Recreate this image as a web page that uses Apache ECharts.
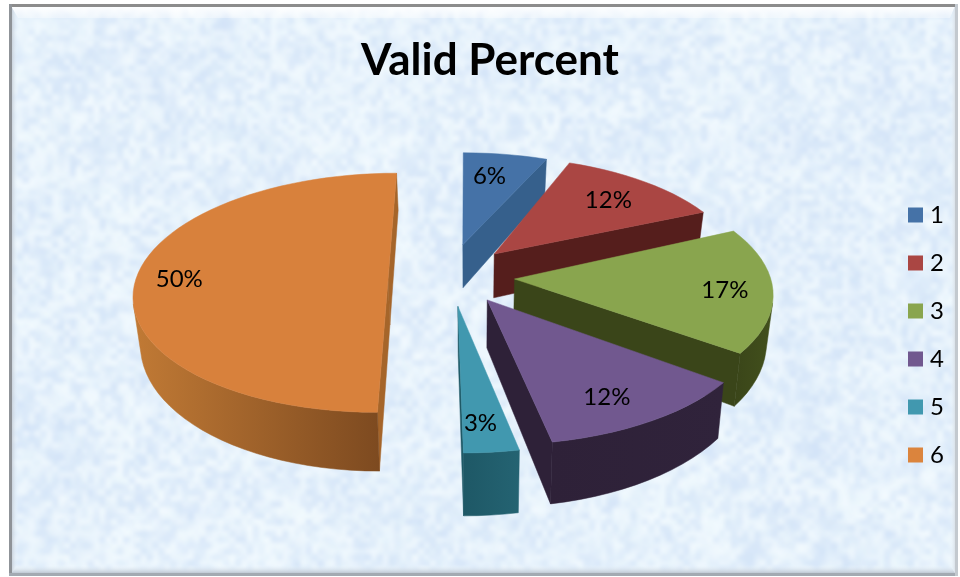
<!DOCTYPE html>
<html lang="en">
<head>
    <meta charset="UTF-8">
    <title>Valid Percent</title>
    <style>
        html, body { margin: 0; padding: 0; background: #fff; }
        #main { width: 960px; height: 577px; }
    </style>
</head>
<body>
    <div id="main"></div>
    <script src="https://cdn.jsdelivr.net/npm/echarts@6/dist/echarts.min.js"></script>
    <script>
        // chart data
        var categories = ['1', '2', '3', '4', '5', '6'];
        var percents = [6, 12, 17, 12, 3, 50];
        var colors = ['#4572a7', '#aa4643', '#89a54e', '#71588f', '#4198af', '#d8813c'];
        var legendColors = ['#4572a7', '#aa4643', '#89a54e', '#71588f', '#4198af', '#db843d'];

        // look of the tilted pie (office style 3d, slices pulled out)
        var pie = { cx: 470, cy: 279, rx: 256, ry: 118, persp: 0.1152, depth: 46, shrink: 0.978, labelR: 0.8 };
        var pull = [[-0.03, 0.22], [0.07, 0.18], [0.175, 0], [0.09, -0.21], [-0.022, -0.26], [-0.32, 0]];
        var apexPull = [[-0.029, 0.3], [0.097, 0.217], [0.174, 0], [0.066, -0.174], [-0.046, -0.226], [-0.32, 0]];
        var radiusScale = [1, 1, 1, 1, 1, 0.985];
        var labelShift = [[-8, 4], [-7, 4], [4, 2], [-11, 2], [-5, 2], [-4, 0]];
        var cutColors = ['#36608c', '#551e1c', '#3a4519', '#2e2138', '#1f5966', '#a5652a'];
        var wallColors = [
            ['#36608c', '#36608c'], ['#551e1c', '#5e2220'], ['#3a4519', '#42501c'],
            ['#2e2138', '#30233b'], ['#1e5866', '#246372'], ['#c17a35', '#7d4a20']
        ];

        function topPoint(u, v) {
            var w = 1 + pie.persp * v;
            return [pie.cx + pie.rx * u / w, pie.cy - pie.ry * v / w, w];
        }
        function lowPoint(p) {
            return [pie.cx + (p[0] - pie.cx) * pie.shrink, p[1] + pie.depth / (p[2] * p[2])];
        }
        function quad(a, b) {
            return [[a[0], a[1]], [b[0], b[1]], lowPoint(b), lowPoint(a)];
        }
        function isFront(a, b) {
            var low = lowPoint(a);
            return (b[0] - a[0]) * (low[1] - a[1]) - (b[1] - a[1]) * (low[0] - a[0]) < 0;
        }
        function poly(points, fill) {
            return { type: 'polygon', shape: { points: points }, style: { fill: fill, stroke: fill, lineWidth: 0.5 } };
        }

        function renderSlice(params, api) {
            var i = params.seriesIndex;
            var value = api.value(0);
            var from = api.value(1) * 3.6 * Math.PI / 180;
            var to = from + value * 3.6 * Math.PI / 180;
            var steps = Math.max(3, Math.round(value * 3.6 / 3));
            var off = pull[i];
            var apex = topPoint(apexPull[i][0], apexPull[i][1]);
            var arc = [];
            for (var s = 0; s <= steps; s++) {
                var t = from + (to - from) * s / steps;
                arc.push(topPoint(off[0] + radiusScale[i] * Math.sin(t), off[1] + Math.cos(t)));
            }
            var kids = [];

            // two flat cut faces
            if (isFront(apex, arc[0])) kids.push(poly(quad(apex, arc[0]), cutColors[i]));
            if (isFront(arc[steps], apex)) kids.push(poly(quad(arc[steps], apex), cutColors[i]));

            // the round outer wall, only the part that faces us
            var run = [];
            for (var k = 0; k < steps; k++) {
                if (isFront(arc[k], arc[k + 1])) {
                    if (!run.length) run.push(arc[k]);
                    run.push(arc[k + 1]);
                }
            }
            if (run.length) {
                var wall = run.map(function (p) { return [p[0], p[1]]; })
                    .concat(run.slice().reverse().map(lowPoint));
                kids.push(poly(wall, {
                    type: 'linear', x: 0, y: 0, x2: 1, y2: 0,
                    colorStops: [{ offset: 0, color: wallColors[i][0] }, { offset: 1, color: wallColors[i][1] }]
                }));
            }

            // top face
            kids.push(poly([[apex[0], apex[1]]].concat(arc.map(function (p) { return [p[0], p[1]]; })), colors[i]));

            // percent label
            var mid = (from + to) / 2;
            var lp = topPoint(off[0] + pie.labelR * Math.sin(mid), off[1] + pie.labelR * Math.cos(mid));
            kids.push({
                type: 'text',
                style: {
                    x: lp[0] + labelShift[i][0], y: lp[1] + labelShift[i][1], text: value + '%', fill: '#000',
                    font: '24px Lato', align: 'center', verticalAlign: 'middle'
                }
            });
            return { type: 'group', children: kids };
        }

        // mottled blue paper behind the chart, fixed pattern from a small hash
        function hash(x, y, seed) {
            var n = Math.sin(x * 127.1 + y * 311.7 + seed * 74.7) * 43758.5453;
            return n - Math.floor(n);
        }
        function paperTexture() {
            var c = document.createElement('canvas');
            c.width = 960; c.height = 577;
            var g = c.getContext('2d');
            g.fillStyle = '#e8f4fc';
            g.fillRect(0, 0, 960, 577);
            g.imageSmoothingEnabled = true;
            g.imageSmoothingQuality = 'high';
            [[40, 0.28], [14, 0.42], [6, 0.5]].forEach(function (oct, o) {
                var w = Math.ceil(960 / oct[0]) + 1, h = Math.ceil(577 / oct[0]) + 1;
                var small = document.createElement('canvas');
                small.width = w; small.height = h;
                var sg = small.getContext('2d');
                var img = sg.createImageData(w, h);
                for (var y = 0; y < h; y++) {
                    for (var x = 0; x < w; x++) {
                        var n = hash(x, y, o + 1);
                        var p = (y * w + x) * 4;
                        if (n < 0.5) {
                            img.data[p] = 204; img.data[p + 1] = 222; img.data[p + 2] = 246;
                            img.data[p + 3] = (0.5 - n) * 2 * 255;
                        } else {
                            img.data[p] = 246; img.data[p + 1] = 252; img.data[p + 2] = 255;
                            img.data[p + 3] = (n - 0.5) * 2 * 255;
                        }
                    }
                }
                sg.putImageData(img, 0, 0);
                g.globalAlpha = oct[1];
                g.drawImage(small, 0, 0, w * oct[0], h * oct[0]);
            });
            g.globalAlpha = 1;
            return c;
        }

        function frameGraphics() {
            var L = 11, T = 6, R = 955, B = 573;
            var bl = 7, bt = 12, br = 5, bb = 8;
            function edge(points, fill) {
                return { type: 'polygon', z: -1, silent: true, shape: { points: points }, style: { fill: fill } };
            }
            function vert(a, b) { return { type: 'linear', x: 0, y: 0, x2: 1, y2: 0, colorStops: [{ offset: 0, color: a }, { offset: 1, color: b }] }; }
            function horz(a, b) { return { type: 'linear', x: 0, y: 0, x2: 0, y2: 1, colorStops: [{ offset: 0, color: a }, { offset: 1, color: b }] }; }
            return [
                { type: 'image', z: -2, silent: true, style: { image: paperTexture(), x: L, y: T, width: R - L, height: B - T } },
                edge([[L, T], [R, T], [R - br, T + bt], [L + bl, T + bt]], horz('#ffffff', 'rgba(255,255,255,0.35)')),
                edge([[L, T], [L + bl, T + bt], [L + bl, B - bb], [L, B]], vert('#c0c8d2', 'rgba(235,245,252,0)')),
                edge([[R, T], [R - br, T + bt], [R - br, B - bb], [R, B]], vert('rgba(235,245,252,0)', '#dbe2e9')),
                edge([[L, B], [R, B], [R - br, B - bb], [L + bl, B - bb]], horz('rgba(235,245,252,0)', '#bfc8d3')),
                { type: 'rect', z: -1, silent: true, shape: { x: 9, y: 4, width: 949, height: 3 }, style: { fill: '#8c8c8c' } },
                { type: 'rect', z: -1, silent: true, shape: { x: 9, y: 4, width: 3, height: 572 }, style: { fill: '#8f9398' } },
                { type: 'rect', z: -1, silent: true, shape: { x: 9, y: 573, width: 949, height: 3 }, style: { fill: '#a3aab2' } },
                { type: 'rect', z: -1, silent: true, shape: { x: 955, y: 4, width: 3, height: 572 }, style: { fill: '#c3c9cf' } }
            ];
        }

        var series = categories.map(function (name, i) {
            var before = percents.slice(0, i).reduce(function (a, b) { return a + b; }, 0);
            return {
                name: name,
                type: 'custom',
                coordinateSystem: 'none',
                itemStyle: { color: legendColors[i] },
                renderItem: renderSlice,
                silent: true,
                animation: false,
                data: [[percents[i], before]]
            };
        });

        var myChart = echarts.init(document.getElementById('main'));
        myChart.setOption({
            animation: false,
            backgroundColor: '#ffffff',
            title: {
                text: 'Valid Percent',
                left: 485,
                top: 34,
                textAlign: 'center',
                textStyle: { fontFamily: 'Lato', fontWeight: 'bold', fontSize: 44, color: '#000' }
            },
            legend: {
                orient: 'vertical',
                left: 908,
                top: 203,
                padding: 0,
                itemWidth: 15,
                itemHeight: 15,
                itemGap: 24,
                icon: 'rect',
                selectedMode: false,
                data: categories,
                textStyle: { fontFamily: 'Lato', fontSize: 24, lineHeight: 24, color: '#000', padding: [0, 0, 0, 2] }
            },
            graphic: frameGraphics(),
            series: series
        });
    </script>
</body>
</html>
